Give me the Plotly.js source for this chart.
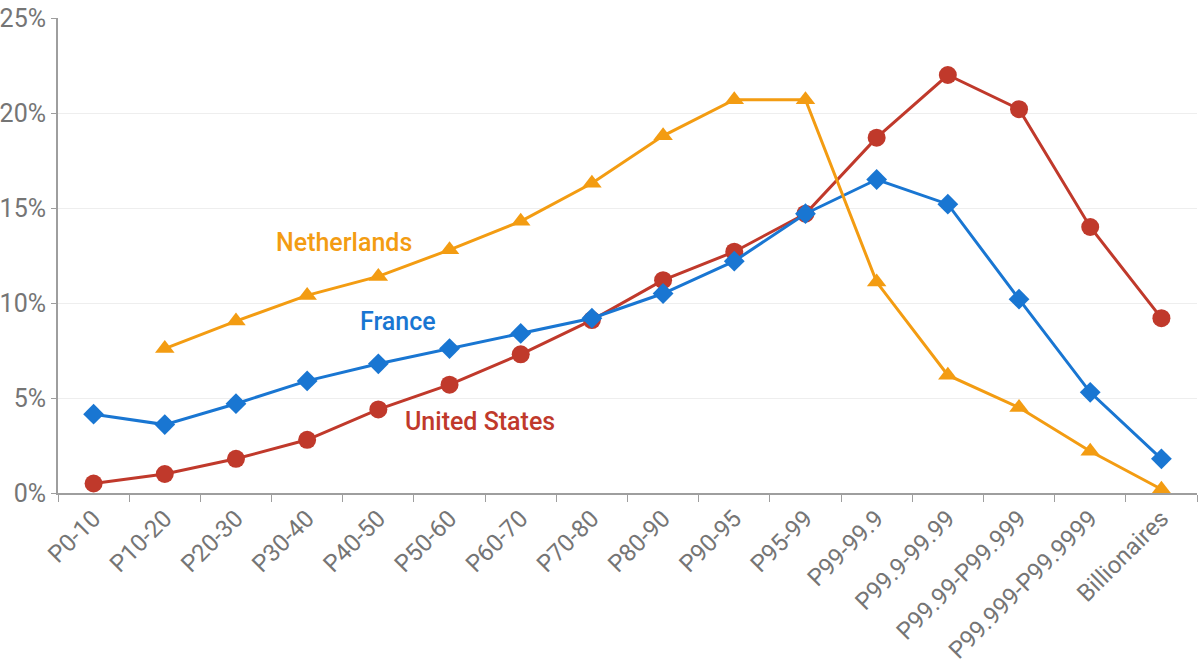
<!DOCTYPE html>
<html>
<head>
<meta charset="utf-8">
<script src="https://cdn.plot.ly/plotly-3.0.1.min.js"></script>
<style>html,body{margin:0;padding:0;background:#fff;}#chart{width:1201px;height:666px;}</style>
</head>
<body>
<div id="chart"></div>
<script>
const categories = ["P0-10","P10-20","P20-30","P30-40","P40-50","P50-60","P60-70","P70-80","P80-90","P90-95","P95-99","P99-99.9","P99.9-99.99","P99.99-P99.999","P99.999-P99.9999","Billionaires"];
const france = [4.15, 3.6, 4.7, 5.9, 6.8, 7.6, 8.4, 9.2, 10.5, 12.2, 14.7, 16.5, 15.2, 10.2, 5.3, 1.8];
const unitedStates = [0.5, 1.0, 1.8, 2.8, 4.4, 5.7, 7.3, 9.1, 11.2, 12.7, 14.7, 18.7, 22.0, 20.2, 14.0, 9.2];
const netherlands = [null, 7.6, 9.05, 10.4, 11.4, 12.8, 14.3, 16.3, 18.8, 20.7, 20.7, 11.1, 6.2, 4.5, 2.2, 0.2];
const yTicks = [0, 5, 10, 15, 20, 25];
const yTickLabels = ["0%", "5%", "10%", "15%", "20%", "25%"];

const cRed = '#c0392b', cBlue = '#1976d2', cOrange = '#f39c12';
const traces = [
  {x: categories, y: unitedStates, name: 'United States', mode: 'lines+markers', line: {color: cRed, width: 3}, marker: {symbol: 'circle', size: 18, color: cRed}},
  {x: categories, y: france, name: 'France', mode: 'lines+markers', line: {color: cBlue, width: 3}, marker: {symbol: 'diamond', size: 16, color: cBlue}},
  {x: categories, y: netherlands, name: 'Netherlands', mode: 'lines+markers', connectgaps: false, line: {color: cOrange, width: 3}, marker: {symbol: 'triangle-up', size: 17, color: cOrange}}
];
const layout = {
  width: 1201, height: 666,
  margin: {l: 58, r: 4, t: 18, b: 173},
  paper_bgcolor: '#fff', plot_bgcolor: '#fff',
  showlegend: false,
  font: {family: 'Roboto, sans-serif', color: '#757575'},
  xaxis: {
    type: 'category', range: [-0.5, 15.5],
    tickangle: -45, tickfont: {size: 24, color: '#757575'},
    tickson: 'boundaries', ticks: 'outside', ticklen: 7, tickcolor: '#9e9e9e',
    showline: true, linecolor: '#9e9e9e', linewidth: 2,
    showgrid: false, zeroline: false
  },
  yaxis: {
    range: [0, 25], tickmode: 'array', tickvals: yTicks, ticktext: yTickLabels,
    tickfont: {size: 25, color: '#757575'},
    ticks: 'outside', ticklen: 5, tickcolor: '#9e9e9e',
    showline: true, linecolor: '#9e9e9e', linewidth: 2,
    showgrid: true, gridcolor: '#eeeeee', gridwidth: 1, zeroline: false
  },
  annotations: [
    {x: 3.52, y: 13.2, xref: 'x', yref: 'y', text: 'Netherlands', showarrow: false, font: {size: 25, color: cOrange, weight: 500}},
    {x: 4.27, y: 9.05, xref: 'x', yref: 'y', text: 'France', showarrow: false, font: {size: 25, color: cBlue, weight: 500}},
    {x: 5.43, y: 3.74, xref: 'x', yref: 'y', text: 'United States', showarrow: false, font: {size: 25, color: cRed, weight: 500}}
  ]
};
Plotly.newPlot('chart', traces, layout, {displayModeBar: false, staticPlot: true});
</script>
</body>
</html>
